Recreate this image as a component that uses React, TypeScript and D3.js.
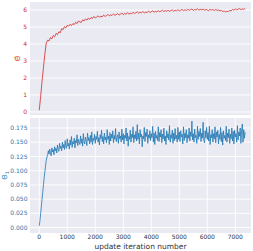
import React from 'react';
import * as d3 from 'd3';

const width = 253;
const height = 251;

// top panel (red) - one sample every 50 iterations
const NORM_STEP = 50;
const normValues = [
  0.1, 0.9, 1.8, 2.6, 3.4, 4.05,
  4.22, 4.18, 4.38, 4.3, 4.5, 4.42, 4.62, 4.55, 4.72, 4.66,
  4.9, 4.84, 5.02, 4.95, 5.1, 5.05, 5.16, 5.08, 5.2, 5.14,
  5.28, 5.2, 5.35, 5.3, 5.27, 5.42, 5.36, 5.47, 5.4, 5.52,
  5.45, 5.56, 5.5, 5.62, 5.53, 5.58, 5.66, 5.57, 5.63, 5.6,
  5.7, 5.62, 5.67, 5.74, 5.65, 5.71, 5.68, 5.77, 5.69, 5.73,
  5.79, 5.7, 5.76, 5.82, 5.72, 5.8, 5.75, 5.84, 5.76, 5.81,
  5.78, 5.86, 5.8, 5.83, 5.89, 5.81, 5.87, 5.84, 5.91, 5.83,
  5.88, 5.85, 5.93, 5.86, 5.9, 5.95, 5.87, 5.92, 5.89, 5.96,
  5.9, 5.94, 5.99, 5.91, 5.96, 5.93, 5.98, 5.92, 5.97, 6.0,
  5.93, 5.98, 5.95, 6.02, 5.94, 5.99, 6.03, 5.96, 6.01, 5.97,
  6.04, 5.98, 6.02, 6.06, 5.97, 6.03, 6.0, 6.07, 5.99, 6.04,
  6.01, 6.05, 5.98, 6.03, 6.0, 5.96, 6.04, 5.99, 6.02, 5.97,
  6.03, 5.98, 6.0, 5.95, 5.98, 5.91, 5.95, 5.89, 5.93, 5.9,
  5.98, 5.95, 6.03, 5.99, 6.06, 6.01, 6.05, 6.08, 6.02, 6.07,
  6.04, 6.08,
];

// bottom panel (blue) - one sample every 25 iterations
const THETA_STEP = 25;
const thetaValues = [
  0.003, 0.012, 0.025, 0.037, 0.05, 0.062, 0.075, 0.087, 0.098, 0.108, 0.118, 0.124, 0.128,
  0.135, 0.129, 0.138, 0.131, 0.126, 0.14, 0.133, 0.137, 0.128, 0.142,
  0.135, 0.139, 0.131, 0.145, 0.137, 0.134, 0.148, 0.139, 0.143, 0.135,
  0.15, 0.14, 0.146, 0.137, 0.153, 0.142, 0.139, 0.156,
  0.143, 0.148, 0.138, 0.154, 0.145, 0.16, 0.141, 0.151, 0.147, 0.157,
  0.14, 0.153, 0.149, 0.163, 0.144, 0.155, 0.15, 0.146, 0.161, 0.148,
  0.156, 0.143, 0.165, 0.151, 0.147, 0.159, 0.152, 0.144, 0.166, 0.153,
  0.158, 0.147, 0.162, 0.15, 0.168, 0.146, 0.157, 0.153, 0.164, 0.148,
  0.16, 0.155, 0.169, 0.15, 0.158, 0.145, 0.163, 0.156, 0.171, 0.151,
  0.16, 0.147, 0.166, 0.154, 0.159, 0.149, 0.172, 0.155, 0.161, 0.146,
  0.167, 0.152, 0.164, 0.157, 0.17, 0.149, 0.162, 0.155, 0.174, 0.151,
  0.159, 0.163, 0.148, 0.168, 0.156, 0.161, 0.15, 0.173, 0.154, 0.165,
  0.147, 0.162, 0.157, 0.175, 0.152, 0.166, 0.143, 0.16, 0.155, 0.171,
  0.15, 0.164, 0.158, 0.177, 0.149, 0.163, 0.156, 0.169, 0.152, 0.181,
  0.155, 0.166, 0.147, 0.172, 0.159, 0.164, 0.142, 0.161, 0.156, 0.176,
  0.151, 0.167, 0.16, 0.173, 0.148, 0.163, 0.157, 0.17, 0.153, 0.165,
  0.158, 0.178, 0.15, 0.166, 0.146, 0.169, 0.157, 0.162, 0.153, 0.177,
  0.151, 0.167, 0.159, 0.172, 0.149, 0.164, 0.156, 0.175, 0.152, 0.161,
  0.146, 0.17, 0.158, 0.165, 0.154, 0.179, 0.15, 0.163, 0.157, 0.171,
  0.148, 0.166, 0.153, 0.174, 0.156, 0.162, 0.15, 0.176, 0.155, 0.168,
  0.151, 0.17, 0.159, 0.164, 0.147, 0.177, 0.153, 0.166, 0.158, 0.172,
  0.149, 0.163, 0.157, 0.175, 0.152, 0.168, 0.16, 0.187, 0.154, 0.165,
  0.15, 0.173, 0.158, 0.162, 0.148, 0.178, 0.155, 0.169, 0.16, 0.174,
  0.151, 0.166, 0.157, 0.185, 0.153, 0.149, 0.17, 0.158, 0.176, 0.155,
  0.167, 0.152, 0.178, 0.146, 0.163, 0.158, 0.172, 0.15, 0.165, 0.156,
  0.177, 0.149, 0.168, 0.159, 0.171, 0.147, 0.164, 0.155, 0.176, 0.151,
  0.167, 0.145, 0.17, 0.157, 0.162, 0.153, 0.178, 0.15, 0.166, 0.158,
  0.173, 0.148, 0.164, 0.156, 0.175, 0.152, 0.169, 0.147, 0.171, 0.159,
  0.165, 0.15, 0.179, 0.154, 0.168, 0.161, 0.175, 0.148, 0.17, 0.182,
  0.15, 0.172, 0.157, 0.168,
];

const xTicks = [0, 1000, 2000, 3000, 4000, 5000, 6000, 7000];
const topTicks = [0, 1, 2, 3, 4, 5, 6];
const bottomTicks = [0, 0.025, 0.05, 0.075, 0.1, 0.125, 0.15, 0.175];

const red = '#d62728';
const blue = '#1f77b4';
const bg = '#eaeaf2';
const font = 'DejaVu Sans';

const left = 30;
const right = 251;
const top1 = 2, bottom1 = 115;
const top2 = 118, bottom2 = 233;

function App() {
  const x = d3.scaleLinear().domain([-330, 7560]).range([left, right]);
  const yTop = d3.scaleLinear().domain([-0.18, 6.47]).range([bottom1, top1]);
  const yBot = d3.scaleLinear().domain([-0.0095, 0.1925]).range([bottom2, top2]);

  const lineTop = d3.line<number>().x((_, i) => x(i * NORM_STEP)).y(d => yTop(d));
  const lineBot = d3.line<number>().x((_, i) => x(i * THETA_STEP)).y(d => yBot(d));

  return (
    <svg width={width} height={height} style={{ position: 'absolute', left: 0, top: 0 }} fontFamily={font}>
      <rect width={width} height={height} fill="#fff" />
      {/* top panel */}
      <rect x={left} y={top1} width={right - left} height={bottom1 - top1} fill={bg} />
      {topTicks.map(t => (
        <g key={t}>
          <line x1={left} x2={right} y1={yTop(t)} y2={yTop(t)} stroke="#fff" strokeWidth={0.9} />
          <text x={27} y={yTop(t)} dy="0.35em" textAnchor="end" fontSize={6} fill={red}>{t}</text>
        </g>
      ))}
      <path d={lineTop(normValues) ?? ''} fill="none" stroke={red} strokeWidth={0.8} strokeLinejoin="round" />
      <text transform={`translate(20,${(top1 + bottom1) / 2}) rotate(-90)`} textAnchor="middle" fontSize={7} fill={red}>Θ̄</text>

      {/* bottom panel */}
      <rect x={left} y={top2} width={right - left} height={bottom2 - top2} fill={bg} />
      {bottomTicks.map(t => (
        <g key={t}>
          <line x1={left} x2={right} y1={yBot(t)} y2={yBot(t)} stroke="#fff" strokeWidth={0.9} />
          <text x={27.5} y={yBot(t)} dy="0.35em" textAnchor="end" fontSize={6} fill={blue}>{d3.format('.3f')(t)}</text>
        </g>
      ))}
      {xTicks.map(t => (
        <g key={t}>
          <line x1={x(t)} x2={x(t)} y1={top2} y2={bottom2} stroke="#fff" strokeWidth={0.9} />
          <text x={x(t)} y={239} textAnchor="middle" fontSize={6} fill="#333">{t}</text>
        </g>
      ))}
      <path d={lineBot(thetaValues) ?? ''} fill="none" stroke={blue} strokeWidth={0.8} strokeLinejoin="round" />
      <text transform={`translate(7,${(top2 + bottom2) / 2}) rotate(-90)`} textAnchor="middle" fontSize={7} fill={blue}>
        Θ<tspan fontSize={5} dy="1.5">1</tspan>
      </text>
      <text x={(left + right) / 2} y={249} textAnchor="middle" fontSize={7.5} fill="#333">update iteration number</text>
    </svg>
  );
}

export default App;
